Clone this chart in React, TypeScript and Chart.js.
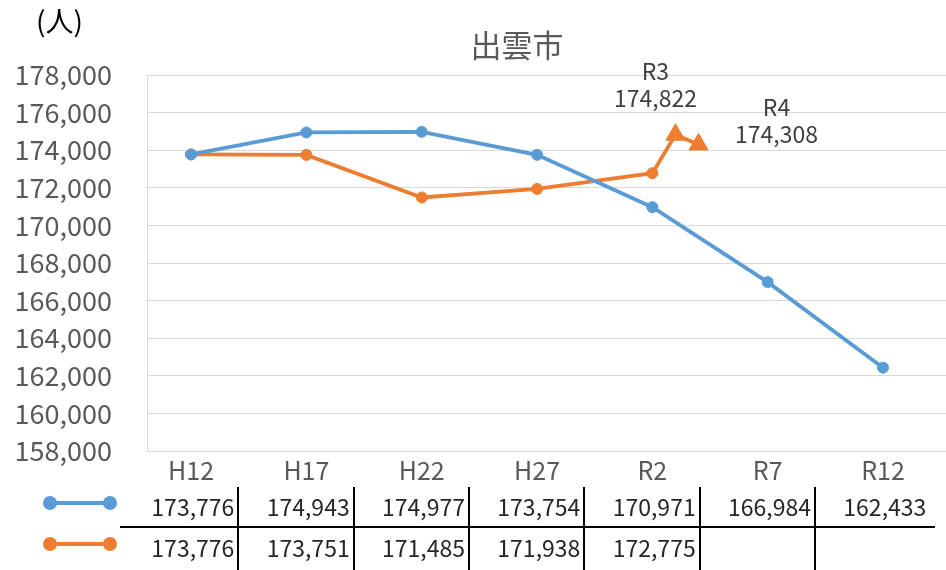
import React, { useEffect, useRef } from "react";
import { Chart, registerables } from "chart.js";

Chart.register(...registerables);

const categories = ["H12", "H17", "H22", "H27", "R2", "R7", "R12"];
const categoryYears = [2000, 2005, 2010, 2015, 2020, 2025, 2030];
const projected = [173776, 174943, 174977, 173754, 170971, 166984, 162433];
const actual = [173776, 173751, 171485, 171938, 172775];
const extraLabels = ["R3", "R4"];
const extraYears = [2021, 2022];
const extraValues = [174822, 174308];
const yTicks = [158000, 160000, 162000, 164000, 166000, 168000, 170000, 172000, 174000, 176000, 178000];
const titleText = "出雲市";
const unitText = "(人)";

const BLUE = "#5B9BD5";
const ORANGE = "#ED7D31";
const FONT = "'Noto Sans CJK JP', 'Noto Sans', sans-serif";
const fmt = (v: number) => v.toLocaleString("en-US");

const overlayPlugin = {
  id: "overlay",
  afterDraw(chart: any) {
    const ctx = chart.ctx;
    const xs = chart.scales.x;
    const ys = chart.scales.y;
    const step = xs.getPixelForValue(categoryYears[1]) - xs.getPixelForValue(categoryYears[0]);
    ctx.save();
    // title
    ctx.fillStyle = "#595959";
    ctx.font = `31px ${FONT}`;
    ctx.textAlign = "center";
    ctx.textBaseline = "middle";
    ctx.fillText(titleText, 517, 45);

    // unit label
    ctx.fillStyle = "#000";
    ctx.font = `28px ${FONT}`;
    ctx.textAlign = "left";
    ctx.fillText(unitText, 36, 21);

    // data labels for extra points
    ctx.fillStyle = "#404040";
    ctx.font = `23px ${FONT}`;
    ctx.textAlign = "center";
    const offs = [
      { dx: -20, dy: -63 },
      { dx: 78, dy: -37 },
    ];
    extraYears.forEach((yr, i) => {
      const px = xs.getPixelForValue(yr);
      const py = ys.getPixelForValue(extraValues[i]);
      ctx.fillText(extraLabels[i], px + offs[i].dx, py + offs[i].dy);
      ctx.fillText(fmt(extraValues[i]), px + offs[i].dx, py + offs[i].dy + 27);
    });

    // data table
    const rows = [
      { color: BLUE, vals: projected, y: 505 },
      { color: ORANGE, vals: actual, y: 546 },
    ];
    ctx.font = `23px ${FONT}`;
    ctx.textAlign = "right";
    ctx.textBaseline = "middle";
    rows.forEach((r) => {
      ctx.strokeStyle = r.color;
      ctx.lineWidth = 4;
      ctx.beginPath();
      ctx.moveTo(50, r.y - 2);
      ctx.lineTo(110, r.y - 2);
      ctx.stroke();
      ctx.fillStyle = r.color;
      [50, 110].forEach((cx) => {
        ctx.beginPath();
        ctx.arc(cx, r.y - 2, 7, 0, Math.PI * 2);
        ctx.fill();
      });
      ctx.fillStyle = "#262626";
      r.vals.forEach((v, i) => {
        const right = xs.getPixelForValue(categoryYears[i]) + step * 0.41;
        ctx.fillText(fmt(v), right - 4, r.y + 2);
      });
    });
    ctx.strokeStyle = "#000";
    ctx.lineWidth = 2;
    ctx.beginPath();
    ctx.moveTo(120, 527);
    ctx.lineTo(935, 527);
    ctx.stroke();
    for (let i = 0; i < categoryYears.length - 1; i++) {
      const lx = Math.round(xs.getPixelForValue(categoryYears[i]) + step * 0.41);
      ctx.beginPath();
      ctx.moveTo(lx, 487);
      ctx.lineTo(lx, 570);
      ctx.stroke();
    }
    ctx.restore();
  },
};

export default function App() {
  const ref = useRef<HTMLCanvasElement>(null);
  useEffect(() => {
    if (!ref.current) return;
    const orangeData = [
      ...actual.map((v, i) => ({ x: categoryYears[i], y: v })),
      ...extraValues.map((v, i) => ({ x: extraYears[i], y: v })),
    ];
    const orangeStyles = orangeData.map((_, i) => (i < actual.length ? "circle" : "triangle"));
    const orangeRadius = orangeData.map((_, i) => (i < actual.length ? 5.5 : 11));
    const chart = new Chart(ref.current, {
      type: "line",
      data: {
        datasets: [
          {
            label: "推計",
            data: projected.map((v, i) => ({ x: categoryYears[i], y: v })),
            borderColor: BLUE,
            backgroundColor: BLUE,
            borderWidth: 3.8,
            pointRadius: 5.5,
            pointBorderWidth: 1,
            pointBackgroundColor: BLUE,
            pointBorderColor: BLUE,
          },
          {
            label: "実績",
            data: orangeData,
            borderColor: ORANGE,
            backgroundColor: ORANGE,
            borderWidth: 3.8,
            pointStyle: orangeStyles as any,
            pointRadius: orangeRadius,
            pointBorderWidth: 1,
            pointBackgroundColor: ORANGE,
            pointBorderColor: ORANGE,
          },
        ],
      },
      options: {
        animation: false,
        responsive: false,
        layout: { autoPadding: false, padding: { left: 0, right: 0, top: 75, bottom: 0 } },
        plugins: {
          legend: { display: false },
          tooltip: { enabled: false },
          title: { display: false },
        },
        scales: {
          x: {
            type: "linear",
            min: 1998.09,
            max: 2032.73,
            afterBuildTicks: (s: any) => {
              s.ticks = categoryYears.map((v) => ({ value: v }));
            },
            afterFit: (s: any) => {
              s.height = 119;
              s.paddingLeft = 0;
              s.paddingRight = 0;
            },
            ticks: {
              autoSkip: false,
              maxRotation: 0,
              padding: 4,
              color: "#595959",
              font: { family: FONT, size: 25 },
              callback: (v: any) => {
                const idx = categoryYears.indexOf(Number(v));
                return idx >= 0 ? categories[idx] : "";
              },
            },
            grid: { display: false, drawTicks: false },
            border: { display: true, color: "#d9d9d9", width: 1 },
          },
          y: {
            min: yTicks[0],
            max: yTicks[yTicks.length - 1],
            afterBuildTicks: (s: any) => {
              s.ticks = yTicks.map((v) => ({ value: v }));
            },
            afterFit: (s: any) => {
              s.width = 147;
              s.paddingTop = 0;
              s.paddingBottom = 0;
            },
            ticks: {
              padding: 35,
              color: "#595959",
              font: { family: FONT, size: 27 },
              callback: (v: any) => fmt(Number(v)),
            },
            grid: { color: "#d9d9d9", lineWidth: 1, drawTicks: false },
            border: { display: true, color: "#d9d9d9", width: 1 },
          },
        },
      },
      plugins: [overlayPlugin],
    });
    return () => chart.destroy();
  }, []);
  return (
    <div style={{ position: "absolute", left: 0, top: 0, width: 946, height: 570, background: "#fff" }}>
      <canvas ref={ref} width={946} height={570} />
    </div>
  );
}
